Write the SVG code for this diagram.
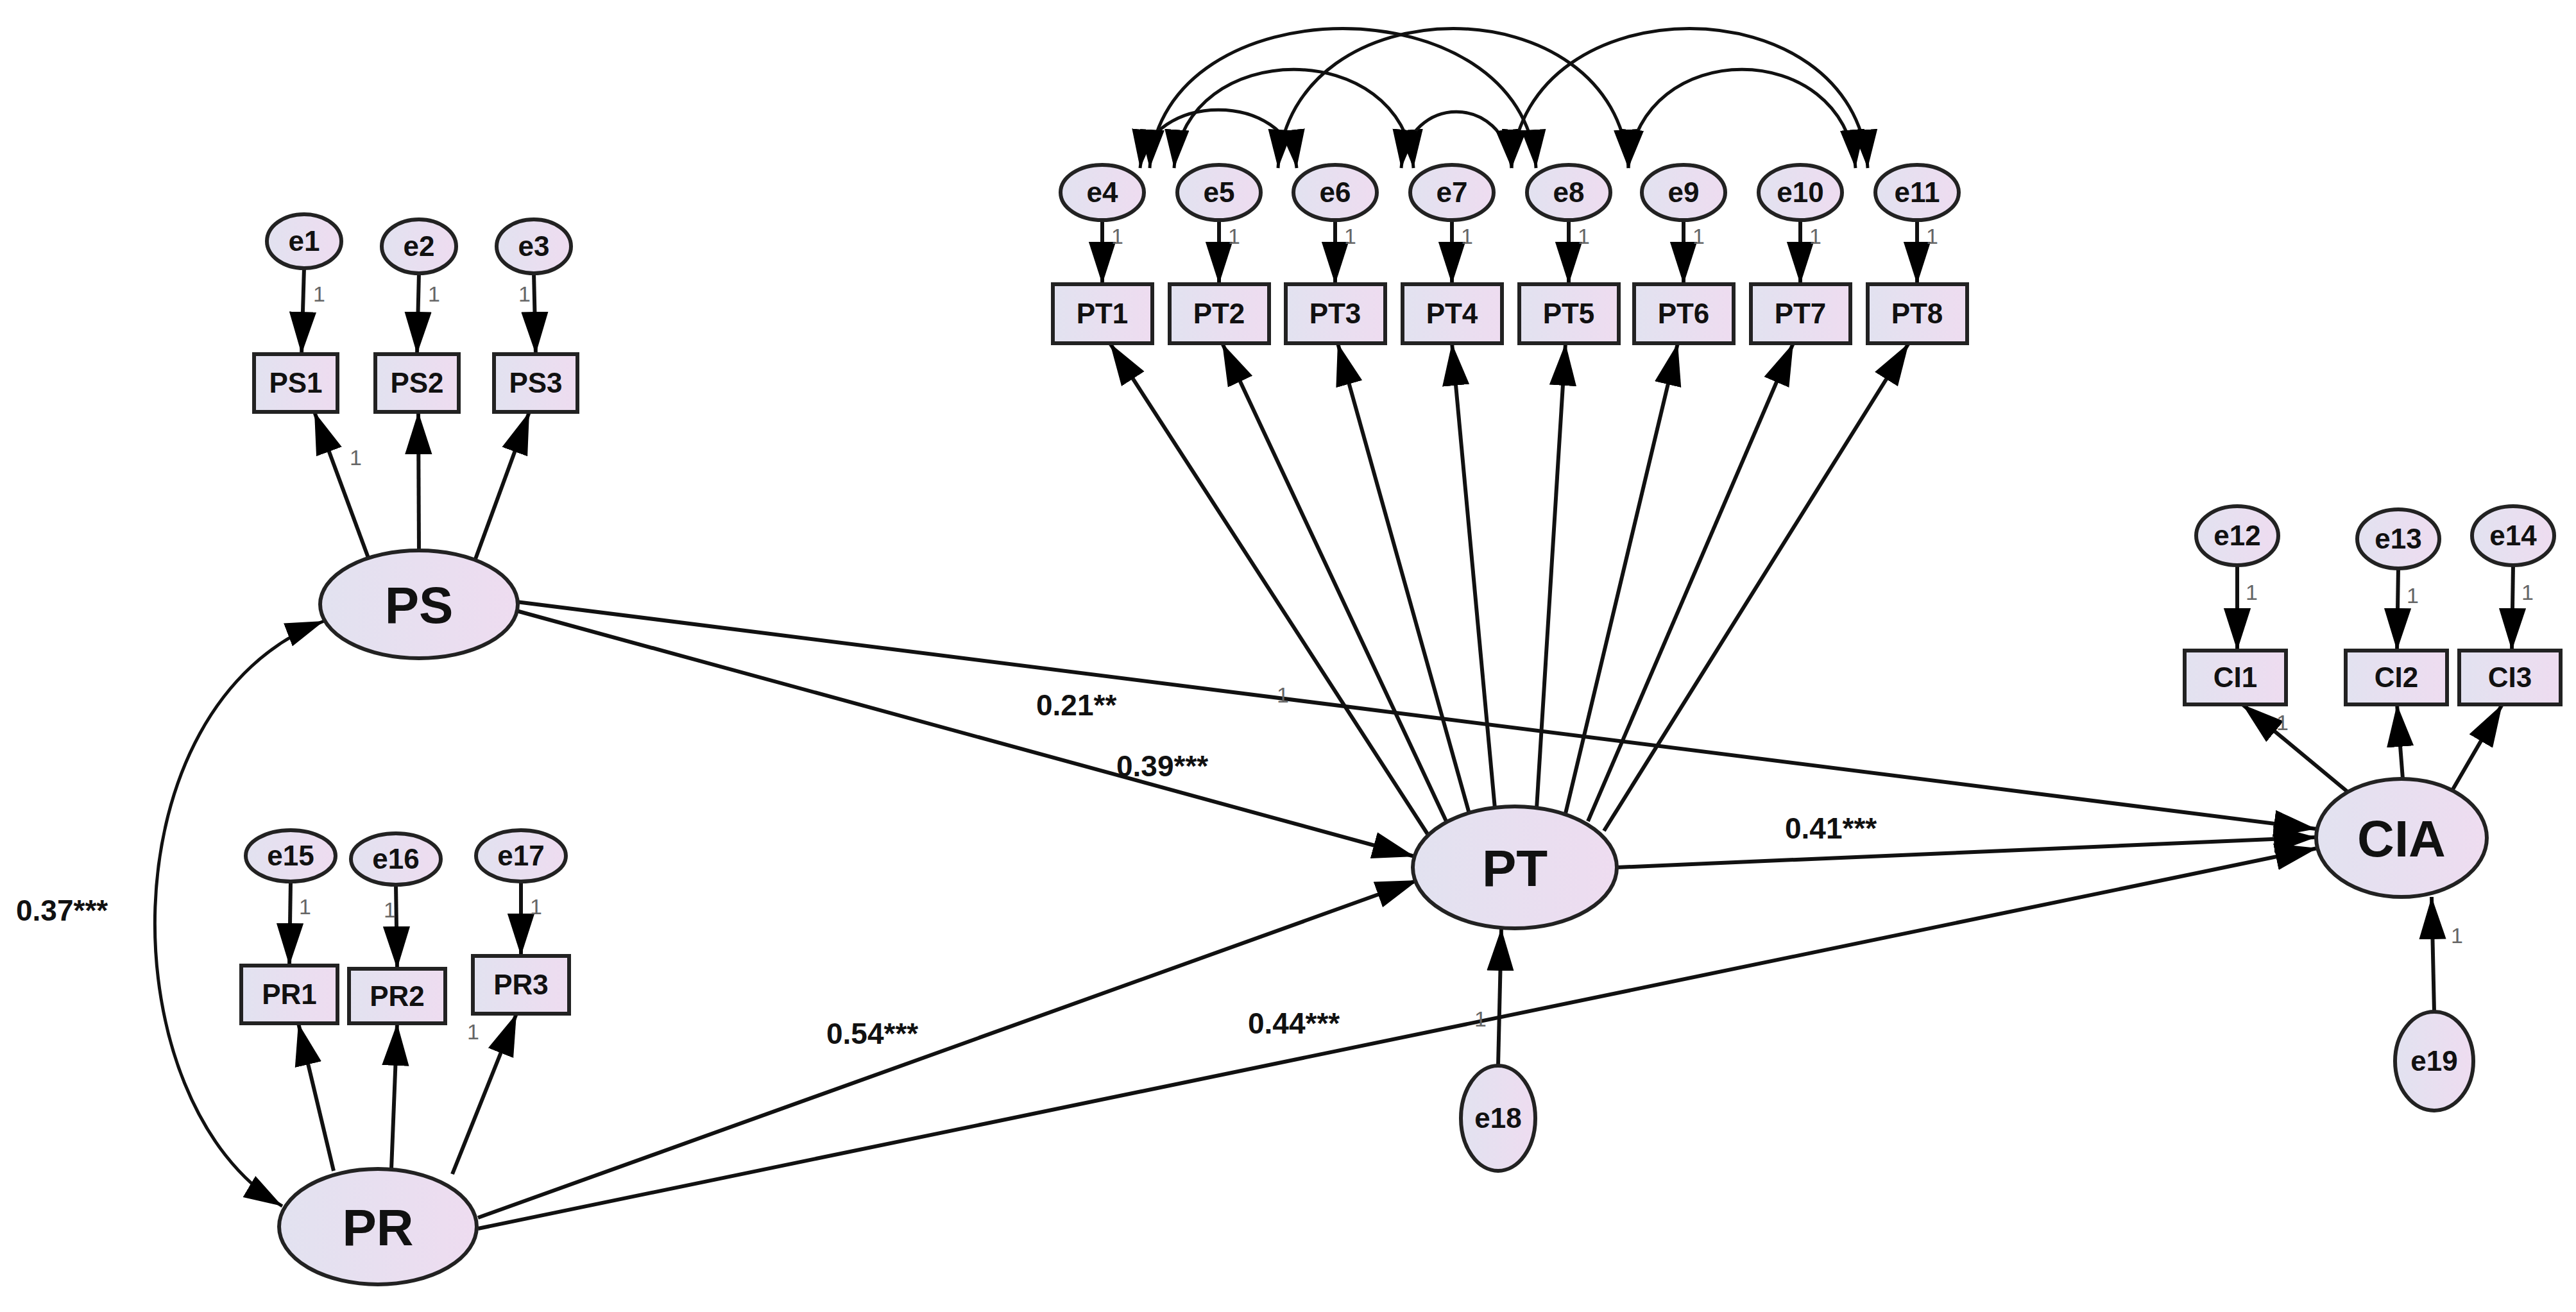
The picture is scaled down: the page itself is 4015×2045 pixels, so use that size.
<svg xmlns="http://www.w3.org/2000/svg" width="4015" height="2045" viewBox="0 0 4015 2045">
<defs>
<linearGradient id="g" x1="0" y1="0" x2="1" y2="0"><stop offset="0" stop-color="#e2e2f0"/><stop offset="1" stop-color="#eedcf0"/></linearGradient>
<marker id="a" viewBox="0 0 10 10" refX="10" refY="5" markerWidth="11" markerHeight="11" markerUnits="strokeWidth" orient="auto-start-reverse"><path d="M0,1.8 L10,5 L0,8.2 z" fill="#000"/></marker>
<marker id="b" viewBox="0 0 10 10" refX="10" refY="5" markerWidth="12" markerHeight="12" markerUnits="strokeWidth" orient="auto-start-reverse"><path d="M0,1.8 L10,5 L0,8.2 z" fill="#000"/></marker>
<style>
.n{fill:url(#g);stroke:#222;stroke-width:6}
.t{font-family:"Liberation Sans",Arial,sans-serif;font-weight:bold;text-anchor:middle;fill:#111}
.s{font-size:44px}
.L{font-size:80px}
.c path,.c line{stroke:#111;stroke-width:6;fill:none}
.f line,.f path{marker-end:url(#a)}
.cov path{stroke-width:5;marker-start:url(#b);marker-end:url(#b)}
.lab{font-family:"Liberation Sans",Arial,sans-serif;font-weight:bold;font-size:46px;fill:#111}
.one{font-family:"Liberation Sans",Arial,sans-serif;font-size:34px;fill:#666}
</style>
</defs>
<rect width="4015" height="2045" fill="#fff"/>
<g id="connectors" class="c">
<g class="f">
<line x1="474" y1="417" x2="470" y2="552"/>
<line x1="653" y1="425" x2="650" y2="552"/>
<line x1="832" y1="425" x2="835" y2="552"/>
<line x1="575" y1="872" x2="490" y2="642"/>
<line x1="653" y1="860" x2="652" y2="642"/>
<line x1="740" y1="874" x2="825" y2="642"/>
<line x1="453" y1="1374" x2="451" y2="1505"/>
<line x1="617" y1="1379" x2="619" y2="1510"/>
<line x1="812" y1="1374" x2="812" y2="1490"/>
<line x1="520" y1="1825" x2="465" y2="1595"/>
<line x1="610" y1="1822" x2="619" y2="1595"/>
<line x1="705" y1="1830" x2="805" y2="1580"/>
<line x1="1718" y1="343" x2="1718" y2="443"/>
<line x1="1900" y1="343" x2="1900" y2="443"/>
<line x1="2081" y1="343" x2="2081" y2="443"/>
<line x1="2263" y1="343" x2="2263" y2="443"/>
<line x1="2445" y1="343" x2="2445" y2="443"/>
<line x1="2624" y1="343" x2="2624" y2="443"/>
<line x1="2806" y1="343" x2="2806" y2="443"/>
<line x1="2988" y1="343" x2="2988" y2="443"/>
<line x1="2225" y1="1300" x2="1730" y2="535"/>
<line x1="2255" y1="1282" x2="1905" y2="535"/>
<line x1="2290" y1="1268" x2="2085" y2="535"/>
<line x1="2330" y1="1260" x2="2263" y2="535"/>
<line x1="2395" y1="1260" x2="2440" y2="535"/>
<line x1="2440" y1="1268" x2="2615" y2="535"/>
<line x1="2475" y1="1280" x2="2795" y2="535"/>
<line x1="2500" y1="1295" x2="2975" y2="535"/>
<line x1="2335" y1="1661" x2="2340" y2="1447"/>
<line x1="3487" y1="881" x2="3487" y2="1014"/>
<line x1="3738" y1="886" x2="3736" y2="1014"/>
<line x1="3917" y1="881" x2="3915" y2="1014"/>
<line x1="3660" y1="1235" x2="3495" y2="1098"/>
<line x1="3745" y1="1214" x2="3736" y2="1098"/>
<line x1="3822" y1="1232" x2="3900" y2="1098"/>
<line x1="3794" y1="1577" x2="3790" y2="1398"/>
<line x1="805" y1="952" x2="2205" y2="1335"/>
<line x1="805" y1="938" x2="3610" y2="1292"/>
<line x1="2520" y1="1352" x2="3610" y2="1305"/>
<line x1="745" y1="1898" x2="2210" y2="1372"/>
<line x1="745" y1="1915" x2="3612" y2="1322"/>
</g>
<g class="cov">
<path d="M505,968 C160,1100 170,1720 440,1880"/>
<path d="M1777,262 C1790,141 2008,141 2021,262"/>
<path d="M1792,262 C1810,-28 2376,-28 2394,262"/>
<path d="M1830,262 C1845,57 2188,57 2203,262"/>
<path d="M1992,262 C2010,-28 2520,-28 2538,262"/>
<path d="M2184,262 C2195,145 2345,145 2356,262"/>
<path d="M2356,262 C2375,-28 2892,-28 2911,262"/>
<path d="M2538,262 C2555,57 2875,57 2892,262"/>
</g>
</g>
<g id="e1"><ellipse class="n" cx="474" cy="376" rx="58" ry="42"/><text class="t s" x="474" y="391">e1</text></g>
<g id="e2"><ellipse class="n" cx="653" cy="384" rx="58" ry="42"/><text class="t s" x="653" y="399">e2</text></g>
<g id="e3"><ellipse class="n" cx="832" cy="384" rx="58" ry="42"/><text class="t s" x="832" y="399">e3</text></g>
<g id="PS1"><rect class="n" x="396" y="552" width="130" height="90"/><text class="t s" x="461" y="612">PS1</text></g>
<g id="PS2"><rect class="n" x="585" y="552" width="130" height="90"/><text class="t s" x="650" y="612">PS2</text></g>
<g id="PS3"><rect class="n" x="770" y="552" width="130" height="90"/><text class="t s" x="835" y="612">PS3</text></g>
<g id="PS"><ellipse class="n" cx="653" cy="942" rx="154" ry="84"/><text class="t L" x="653" y="971">PS</text></g>
<g id="e15"><ellipse class="n" cx="453" cy="1334" rx="70" ry="40"/><text class="t s" x="453" y="1349">e15</text></g>
<g id="e16"><ellipse class="n" cx="617" cy="1339" rx="70" ry="40"/><text class="t s" x="617" y="1354">e16</text></g>
<g id="e17"><ellipse class="n" cx="812" cy="1334" rx="70" ry="40"/><text class="t s" x="812" y="1349">e17</text></g>
<g id="PR1"><rect class="n" x="376" y="1505" width="150" height="90"/><text class="t s" x="451" y="1565">PR1</text></g>
<g id="PR2"><rect class="n" x="544" y="1510" width="150" height="85"/><text class="t s" x="619" y="1568">PR2</text></g>
<g id="PR3"><rect class="n" x="737" y="1490" width="150" height="90"/><text class="t s" x="812" y="1550">PR3</text></g>
<g id="PR"><ellipse class="n" cx="589" cy="1912" rx="154" ry="90"/><text class="t L" x="589" y="1941">PR</text></g>
<g id="e4"><ellipse class="n" cx="1718" cy="300" rx="65" ry="43"/><text class="t s" x="1718" y="315">e4</text></g>
<g id="e5"><ellipse class="n" cx="1900" cy="300" rx="65" ry="43"/><text class="t s" x="1900" y="315">e5</text></g>
<g id="e6"><ellipse class="n" cx="2081" cy="300" rx="65" ry="43"/><text class="t s" x="2081" y="315">e6</text></g>
<g id="e7"><ellipse class="n" cx="2263" cy="300" rx="65" ry="43"/><text class="t s" x="2263" y="315">e7</text></g>
<g id="e8"><ellipse class="n" cx="2445" cy="300" rx="65" ry="43"/><text class="t s" x="2445" y="315">e8</text></g>
<g id="e9"><ellipse class="n" cx="2624" cy="300" rx="65" ry="43"/><text class="t s" x="2624" y="315">e9</text></g>
<g id="e10"><ellipse class="n" cx="2806" cy="300" rx="65" ry="43"/><text class="t s" x="2806" y="315">e10</text></g>
<g id="e11"><ellipse class="n" cx="2988" cy="300" rx="65" ry="43"/><text class="t s" x="2988" y="315">e11</text></g>
<g id="PT1"><rect class="n" x="1641" y="443" width="155" height="92"/><text class="t s" x="1718" y="504">PT1</text></g>
<g id="PT2"><rect class="n" x="1823" y="443" width="155" height="92"/><text class="t s" x="1900" y="504">PT2</text></g>
<g id="PT3"><rect class="n" x="2004" y="443" width="155" height="92"/><text class="t s" x="2081" y="504">PT3</text></g>
<g id="PT4"><rect class="n" x="2186" y="443" width="155" height="92"/><text class="t s" x="2263" y="504">PT4</text></g>
<g id="PT5"><rect class="n" x="2368" y="443" width="155" height="92"/><text class="t s" x="2445" y="504">PT5</text></g>
<g id="PT6"><rect class="n" x="2547" y="443" width="155" height="92"/><text class="t s" x="2624" y="504">PT6</text></g>
<g id="PT7"><rect class="n" x="2729" y="443" width="155" height="92"/><text class="t s" x="2806" y="504">PT7</text></g>
<g id="PT8"><rect class="n" x="2911" y="443" width="155" height="92"/><text class="t s" x="2988" y="504">PT8</text></g>
<g id="PT"><ellipse class="n" cx="2361" cy="1352" rx="159" ry="95"/><text class="t L" x="2361" y="1381">PT</text></g>
<g id="e18"><ellipse class="n" cx="2335" cy="1743" rx="58" ry="82"/><text class="t s" x="2335" y="1758">e18</text></g>
<g id="e12"><ellipse class="n" cx="3487" cy="835" rx="64" ry="46"/><text class="t s" x="3487" y="850">e12</text></g>
<g id="e13"><ellipse class="n" cx="3738" cy="840" rx="64" ry="46"/><text class="t s" x="3738" y="855">e13</text></g>
<g id="e14"><ellipse class="n" cx="3917" cy="835" rx="64" ry="46"/><text class="t s" x="3917" y="850">e14</text></g>
<g id="CI1"><rect class="n" x="3405" y="1014" width="158" height="84"/><text class="t s" x="3484" y="1071">CI1</text></g>
<g id="CI2"><rect class="n" x="3656" y="1014" width="158" height="84"/><text class="t s" x="3735" y="1071">CI2</text></g>
<g id="CI3"><rect class="n" x="3833" y="1014" width="158" height="84"/><text class="t s" x="3912" y="1071">CI3</text></g>
<g id="CIA"><ellipse class="n" cx="3743" cy="1306" rx="133" ry="92"/><text class="t L" x="3743" y="1335">CIA</text></g>
<g id="e19"><ellipse class="n" cx="3794" cy="1654" rx="61" ry="77"/><text class="t s" x="3794" y="1669">e19</text></g>
<g id="labels">
<text class="lab" x="25" y="1435">0.37***</text>
<text class="lab" x="1615" y="1115">0.21**</text>
<text class="lab" x="1740" y="1210">0.39***</text>
<text class="lab" x="2782" y="1307">0.41***</text>
<text class="lab" x="1288" y="1627">0.54***</text>
<text class="lab" x="1945" y="1611">0.44***</text>
<text class="one" x="545" y="725">1</text>
<text class="one" x="1990" y="1095">1</text>
<text class="one" x="728" y="1620">1</text>
<text class="one" x="3548" y="1138">1</text>
<text class="one" x="2298" y="1600">1</text>
<text class="one" x="3820" y="1470">1</text>
<text class="one" x="488" y="470">1</text>
<text class="one" x="667" y="470">1</text>
<text class="one" x="808" y="470">1</text>
<text class="one" x="466" y="1425">1</text>
<text class="one" x="598" y="1430">1</text>
<text class="one" x="826" y="1425">1</text>
<text class="one" x="1732" y="380">1</text>
<text class="one" x="1914" y="380">1</text>
<text class="one" x="2095" y="380">1</text>
<text class="one" x="2277" y="380">1</text>
<text class="one" x="2459" y="380">1</text>
<text class="one" x="2638" y="380">1</text>
<text class="one" x="2820" y="380">1</text>
<text class="one" x="3002" y="380">1</text>
<text class="one" x="3500" y="935">1</text>
<text class="one" x="3751" y="940">1</text>
<text class="one" x="3930" y="935">1</text>
</g>
</svg>
